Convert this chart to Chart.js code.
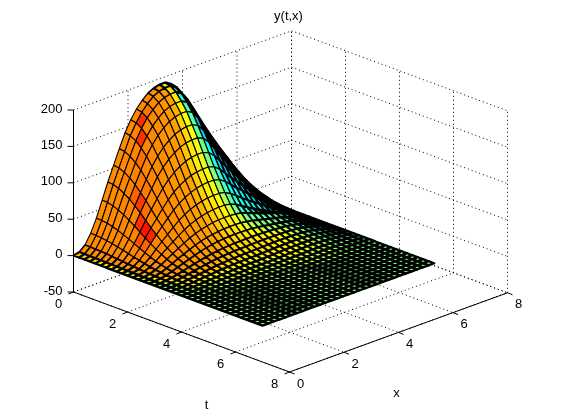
<!DOCTYPE html>
<html>
<head>
<meta charset="utf-8">
<style>
html, body { margin: 0; padding: 0; background: #fff; }
canvas { display: block; }
</style>
<script src="https://cdn.jsdelivr.net/npm/chart.js@4/dist/chart.umd.min.js"></script>
</head>
<body>
<canvas id="surface" width="561" height="419"></canvas>
<script>
var tTicks = [0, 2, 4, 6, 8];
var xTicks = [0, 2, 4, 6, 8];
var zTicks = [-50, 0, 50, 100, 150, 200];
var tGrid = [0,0.2,0.4,0.6,0.8,1,1.2,1.4,1.6,1.8,2,2.2,2.4,2.6,2.8,3,3.2,3.4,3.6,3.8,4,4.2,4.4,4.6,4.8,5,5.2,5.4,5.6,5.8,6,6.2,6.4,6.6,6.8,7];
var xGrid = [0,0.21,0.42,0.63,0.84,1.05,1.26,1.47,1.68,1.89,2.1,2.31,2.52,2.73,2.94,3.15,3.36,3.57,3.78,3.99,4.2,4.41,4.62,4.83,5.04,5.25,5.46,5.67,5.88,6.09,6.3];
// one row per t value
var yRows = [
[0,2,9,22,40,62,84,104,124,143,158,170,179,186,190,192,192,187,175,158,141,125,109,94,78,63,49,36,24,12,0],
[0,2,8.9,21.8,39.6,61.4,83.2,103,122.8,141.6,156.4,168.3,177.2,184.1,188.1,190.1,190.1,185.1,173.3,156.4,139.6,123.8,107.9,93.1,77.2,62.4,48.5,35.6,23.8,11.9,0],
[0,1.9,8.6,21.1,38.4,59.5,80.6,99.8,119,137.3,151.7,163.2,171.8,178.6,182.4,184.3,184.3,179.5,168,151.7,135.4,120,104.6,90.2,74.9,60.5,47,34.6,23,11.5,0],
[0,1.8,8.2,20,36.4,56.4,76.4,94.6,112.8,130.1,143.8,154.7,162.9,169.3,172.9,174.7,174.7,170.2,159.3,143.8,128.3,113.8,99.2,85.5,71,57.3,44.6,32.8,21.8,10.9,0],
[0,1.7,7.7,18.7,34,52.7,71.4,88.4,105.4,121.6,134.3,144.5,152.2,158.1,161.5,163.2,163.2,159,148.8,134.3,119.9,106.3,92.7,79.9,66.3,53.6,41.7,30.6,20.4,10.2,0],
[0,1.5,6.9,16.9,30.8,47.7,64.7,80.1,95.5,110.1,121.7,130.9,137.8,143.2,146.3,147.8,147.8,144,134.8,121.7,108.6,96.3,83.9,72.4,60.1,48.5,37.7,27.7,18.5,9.2,0],
[0,1.4,6.2,15.2,27.6,42.8,58,71.8,85.6,98.7,109,117.3,123.5,128.3,131.1,132.5,132.5,129,120.8,109,97.3,86.3,75.2,64.9,53.8,43.5,33.8,24.8,16.6,8.3,0],
[0,1.2,5.4,13.2,24,37.2,50.4,62.4,74.4,85.8,94.8,102,107.4,111.6,114,115.2,115.2,112.2,105,94.8,84.6,75,65.4,56.4,46.8,37.8,29.4,21.6,14.4,7.2,0],
[0,1,4.6,11.2,20.4,31.6,42.8,53,63.2,72.9,80.6,86.7,91.3,94.9,96.9,97.9,97.9,95.4,89.3,80.6,71.9,63.8,55.6,47.9,39.8,32.1,25,18.4,12.2,6.1,0],
[0,0.9,3.9,9.5,17.2,26.7,36.1,44.7,53.3,61.5,67.9,73.1,77,80,81.7,82.6,82.6,80.4,75.3,67.9,60.6,53.8,46.9,40.4,33.5,27.1,21.1,15.5,10.3,5.2,0],
[0,0.7,3.2,7.7,14,21.7,29.4,36.4,43.4,50,55.3,59.5,62.7,65.1,66.5,67.2,67.2,65.5,61.3,55.3,49.4,43.8,38.2,32.9,27.3,22.1,17.2,12.6,8.4,4.2,0],
[0,0.6,2.5,6.2,11.2,17.4,23.5,29.1,34.7,40,44.2,47.6,50.1,52.1,53.2,53.8,53.8,52.4,49,44.2,39.5,35,30.5,26.3,21.8,17.6,13.7,10.1,6.7,3.4,0],
[0,0.4,2,4.8,8.8,13.6,18.5,22.9,27.3,31.5,34.8,37.4,39.4,40.9,41.8,42.2,42.2,41.5,40,37,34,31,28,25.5,23,20,16.5,12.5,8.5,4.3,0],
[0,0.3,1.5,3.7,6.8,10.5,14.3,17.7,21.1,24.3,26.9,28.9,30.4,31.6,32.3,32.6,32.6,32.2,31,29.5,27.5,25.5,23.5,21.5,19.5,17,14,10.8,7.4,3.8,0],
[0,0.3,1.2,2.9,5.2,8.1,10.9,13.5,16.1,18.6,20.5,22.1,23.3,24.2,24.7,25,25,24.8,24.2,23.3,22,20.5,19.3,18,16.6,15,12.4,9.5,6.5,3.3,0],
[0,0.2,0.9,2.1,3.8,5.9,8,9.9,11.8,13.6,15,16.2,17,17.7,18.1,18.2,18.5,18.6,18.5,18.2,17.8,17.2,16.5,15.8,14.6,13,10.8,8.3,5.6,2.9,0],
[0,0.1,0.6,1.5,2.8,4.3,5.9,7.3,8.7,10,11.1,11.9,12.5,13,13.3,13.4,13.7,14,14.1,14.1,14,13.8,13.5,13,12.2,11,9.2,7,4.7,2.4,0],
[0,0.1,0.5,1.1,2,3.1,4.2,5.2,6.2,7.2,7.9,8.5,9,9.3,9.5,9.6,9.9,10.2,10.5,10.7,10.8,10.8,10.7,10.4,9.9,9,7.5,5.7,3.8,1.9,0],
[0,0.1,0.3,0.8,1.4,2.2,2.9,3.6,4.3,5,5.5,6,6.3,6.5,6.7,6.7,7,7.4,7.8,8.1,8.3,8.5,8.5,8.3,7.9,7.2,6,4.5,3,1.5,0],
[0,0,0.2,0.5,1,1.5,2,2.5,3,3.4,3.8,4.1,4.3,4.5,4.6,4.6,4.9,5.2,5.6,5.9,6.2,6.4,6.5,6.4,6.1,5.6,4.6,3.4,2.3,1.1,0],
[0,0,0.1,0.4,0.6,1,1.3,1.7,2,2.3,2.5,2.7,2.9,3,3,3.1,3.3,3.5,3.8,4.1,4.4,4.6,4.8,4.8,4.6,4.1,3.4,2.5,1.7,0.8,0],
[0,0,0.1,0.2,0.4,0.6,0.8,1,1.2,1.4,1.6,1.7,1.8,1.9,1.9,1.9,2.1,2.3,2.5,2.7,2.9,3.1,3.3,3.3,3.1,2.8,2.3,1.7,1.1,0.6,0],
[0,0,0.1,0.1,0.2,0.4,0.5,0.6,0.7,0.9,0.9,1,1.1,1.1,1.1,1.2,1.2,1.3,1.4,1.6,1.8,2,2.1,2.2,2.1,1.8,1.4,1.1,0.7,0.4,0],
[0,0,0,0.1,0.1,0.2,0.3,0.3,0.4,0.4,0.5,0.5,0.5,0.6,0.6,0.6,0.6,0.7,0.7,0.8,1,1.1,1.2,1.3,1.2,1,0.8,0.6,0.4,0.2,0],
[0,0,0,0,0,0.1,0.1,0.1,0.1,0.1,0.2,0.2,0.2,0.2,0.2,0.2,0.2,0.2,0.2,0.3,0.4,0.5,0.5,0.6,0.5,0.4,0.3,0.2,0.1,0.1,0],
[0,0,0,0,0,0,0,0,0,0,0,0,0,0,0,0,0,0,0,0,0,0,0,0,0,0,0,0,0,0,0],
[0,0,0,0,0,0,0,0,0,0,0,0,0,0,0,0,0,0,0,0,0,0,0,0,0,0,0,0,0,0,0],
[0,0,0,0,0,0,0,0,0,0,0,0,0,0,0,0,0,0,0,0,0,0,0,0,0,0,0,0,0,0,0],
[0,0,0,0,0,0,0,0,0,0,0,0,0,0,0,0,0,0,0,0,0,0,0,0,0,0,0,0,0,0,0],
[0,0,0,0,0,0,0,0,0,0,0,0,0,0,0,0,0,0,0,0,0,0,0,0,0,0,0,0,0,0,0],
[0,0,0,0,0,0,0,0,0,0,0,0,0,0,0,0,0,0,0,0,0,0,0,0,0,0,0,0,0,0,0],
[0,0,0,0,0,0,0,0,0,0,0,0,0,0,0,0,0,0,0,0,0,0,0,0,0,0,0,0,0,0,0],
[0,0,0,0,0,0,0,0,0,0,0,0,0,0,0,0,0,0,0,0,0,0,0,0,0,0,0,0,0,0,0],
[0,0,0,0,0,0,0,0,0,0,0,0,0,0,0,0,0,0,0,0,0,0,0,0,0,0,0,0,0,0,0],
[0,0,0,0,0,0,0,0,0,0,0,0,0,0,0,0,0,0,0,0,0,0,0,0,0,0,0,0,0,0,0],
[0,0,0,0,0,0,0,0,0,0,0,0,0,0,0,0,0,0,0,0,0,0,0,0,0,0,0,0,0,0,0]
];

var tMax = 8, xMax = 8, zMin = -50, zMax = 200;

// 3d box to the flat view, the chart scales do the rest
function project(t, x, z) {
    return { x: 73.5 + 27 * t + 27.25 * x, y: 292 + 10 * t - 9.9 * x - 0.728 * (z - zMin) };
}

function jet(v) {
    var r = Math.max(0, Math.min(1, 1.5 - Math.abs(4 * v - 3)));
    var g = Math.max(0, Math.min(1, 1.5 - Math.abs(4 * v - 2)));
    var b = Math.max(0, Math.min(1, 1.5 - Math.abs(4 * v - 1)));
    return "rgb(" + Math.round(r * 255) + "," + Math.round(g * 255) + "," + Math.round(b * 255) + ")";
}

// how much a cell faces the light -> place on the jet map
var lightStops = [0.1, 0.44, 0.56, 0.7, 0.988, 0.998];
var jetStops = [0.33, 0.5, 0.62, 0.72, 0.745, 0.875];
function lightToJet(c) {
    if (c <= lightStops[0]) return jetStops[0];
    for (var s = 1; s < lightStops.length; s++) {
        if (c <= lightStops[s]) {
            var f = (c - lightStops[s - 1]) / (lightStops[s] - lightStops[s - 1]);
            return jetStops[s - 1] + f * (jetStops[s] - jetStops[s - 1]);
        }
    }
    return jetStops[jetStops.length - 1];
}

function cellColor(i, j) {
    var k = tMax / (zMax - zMin);
    var dt = tGrid[i + 1] - tGrid[i], dx = xGrid[j + 1] - xGrid[j];
    var p = k * (yRows[i + 1][j] + yRows[i + 1][j + 1] - yRows[i][j] - yRows[i][j + 1]) / (2 * dt);
    var q = k * (yRows[i][j + 1] + yRows[i + 1][j + 1] - yRows[i][j] - yRows[i + 1][j]) / (2 * dx);
    var c = (-p * 0.42 + q * 0.79 + 0.44) / Math.sqrt(p * p + q * q + 1);
    return jet(lightToJet(c));
}

// thin lines on the big steep cells, thick on the small flat ones
function cellLine(a, c, b, d) {
    var area = Math.abs((c.x - a.x) * (d.y - b.y) - (c.y - a.y) * (d.x - b.x)) / 2;
    return Math.max(1.1, 3 - area / 35);
}

function lineSet(points, dash) {
    return {
        data: points,
        showLine: true,
        borderColor: "#000",
        borderWidth: 1,
        borderDash: dash || [],
        pointRadius: 0,
        fill: false,
        clip: false
    };
}

var drawList = [];
var dots = [1, 3];

// dotted walls and floor
zTicks.forEach(function (z) {
    drawList.push(lineSet([project(0, 0, z), project(0, xMax, z), project(tMax, xMax, z)], dots));
});
xTicks.forEach(function (x) {
    drawList.push(lineSet([project(0, x, zMin), project(0, x, zMax)], dots));
    drawList.push(lineSet([project(0, x, zMin), project(tMax, x, zMin)], dots));
});
tTicks.forEach(function (t) {
    drawList.push(lineSet([project(t, xMax, zMin), project(t, xMax, zMax)], dots));
    drawList.push(lineSet([project(t, 0, zMin), project(t, xMax, zMin)], dots));
});

// solid axes and tick marks
drawList.push(lineSet([project(0, 0, zMax), project(0, 0, zMin), project(tMax, 0, zMin), project(tMax, xMax, zMin)]));
zTicks.forEach(function (z) {
    var a = project(0, 0, z);
    drawList.push(lineSet([a, { x: a.x - 6, y: a.y }]));
});
tTicks.forEach(function (t) {
    var a = project(t, 0, zMin);
    drawList.push(lineSet([a, { x: a.x - 5, y: a.y + 2 }]));
});
xTicks.forEach(function (x) {
    var a = project(tMax, x, zMin);
    drawList.push(lineSet([a, { x: a.x + 5, y: a.y + 2 }]));
});

// mesh, far cells first
for (var i = 0; i < tGrid.length - 1; i++) {
    for (var j = xGrid.length - 2; j >= 0; j--) {
        var a = project(tGrid[i], xGrid[j], yRows[i][j]);
        var b = project(tGrid[i], xGrid[j + 1], yRows[i][j + 1]);
        var c = project(tGrid[i + 1], xGrid[j + 1], yRows[i + 1][j + 1]);
        var d = project(tGrid[i + 1], xGrid[j], yRows[i + 1][j]);
        drawList.push({
            data: [a, b, c, d, a],
            showLine: true,
            borderColor: "#000",
            borderWidth: cellLine(a, c, b, d),
            backgroundColor: cellColor(i, j),
            pointRadius: 0,
            fill: "shape",
            clip: false
        });
    }
}

// chart.js paints the first dataset last
drawList.reverse();

var axisText = {
    id: "axisText",
    afterDraw: function (chart) {
        var ctx = chart.ctx, sx = chart.scales.x, sy = chart.scales.y;
        function label(text, pos, dx, dy) {
            ctx.fillText(text, sx.getPixelForValue(pos.x) + dx, sy.getPixelForValue(pos.y) + dy);
        }
        ctx.save();
        ctx.fillStyle = "#000";
        ctx.font = "13px 'Liberation Sans'";
        ctx.textBaseline = "middle";
        ctx.textAlign = "right";
        zTicks.forEach(function (z) { label(String(z), project(0, 0, z), -11, -1); });
        ctx.textAlign = "center";
        tTicks.forEach(function (t) { label(String(t), project(t, 0, zMin), -15, 12); });
        xTicks.forEach(function (x) { label(String(x), project(tMax, x, zMin), 11, 12); });
        label("t", project(tMax / 2, 0, zMin), 25, 73);
        label("x", project(tMax, xMax / 2, zMin), -2, 61);
        label("y(t,x)", project(0, xMax, zMax), -3, -14);
        ctx.restore();
    }
};

new Chart(document.getElementById("surface"), {
    type: "scatter",
    data: { datasets: drawList },
    options: {
        responsive: false,
        animation: false,
        events: [],
        layout: { padding: 0 },
        elements: { line: { tension: 0, borderJoinStyle: "round" } },
        plugins: {
            legend: { display: false },
            tooltip: { enabled: false },
            filler: { drawTime: "beforeDatasetDraw" }
        },
        scales: {
            x: { type: "linear", min: 0, max: 561, display: false },
            y: { type: "linear", min: 0, max: 419, reverse: true, display: false }
        }
    },
    plugins: [axisText]
});
</script>
</body>
</html>
